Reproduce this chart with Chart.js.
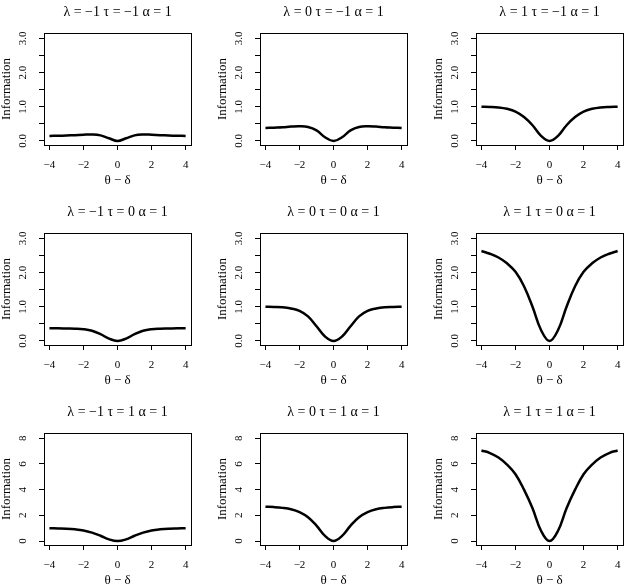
<!DOCTYPE html>
<html>
<head>
<meta charset="utf-8">
<script src="https://cdn.jsdelivr.net/npm/chart.js@4.4.1/dist/chart.umd.min.js"></script>
<style>
  html, body { margin: 0; padding: 0; background: #fff; overflow: hidden; }
  #grid { position: relative; width: 629px; height: 585px; overflow: hidden; }
  #grid canvas { position: absolute; }
</style>
</head>
<body>
<div id="grid"></div>
<script>
// theta - delta grid shared by every panel
let theta_minus_delta = [-4, -3.5, -3, -2.5, -2, -1.5, -1, -0.5, 0, 0.5, 1, 1.5, 2, 2.5, 3, 3.5, 4];

let panel_titles = [
  'λ = −1 τ = −1 α = 1', 'λ = 0 τ = −1 α = 1', 'λ = 1 τ = −1 α = 1',
  'λ = −1 τ = 0 α = 1',  'λ = 0 τ = 0 α = 1',  'λ = 1 τ = 0 α = 1',
  'λ = −1 τ = 1 α = 1',  'λ = 0 τ = 1 α = 1',  'λ = 1 τ = 1 α = 1'
];

// information values
let info_lm1_tm1 = [0.147, 0.153, 0.16, 0.17, 0.183, 0.19, 0.165, 0.08, 0, 0.08, 0.165, 0.19, 0.183, 0.17, 0.16, 0.153, 0.147];
let info_l0_tm1  = [0.38, 0.39, 0.40, 0.42, 0.43, 0.41, 0.31, 0.11, 0, 0.11, 0.31, 0.41, 0.43, 0.42, 0.40, 0.39, 0.38];
let info_l1_tm1  = [1.0, 0.995, 0.98, 0.94, 0.86, 0.70, 0.46, 0.15, 0, 0.15, 0.46, 0.70, 0.86, 0.94, 0.98, 0.995, 1.0];
let info_lm1_t0  = [0.37, 0.37, 0.365, 0.36, 0.345, 0.30, 0.20, 0.07, 0, 0.07, 0.20, 0.30, 0.345, 0.36, 0.365, 0.37, 0.37];
let info_l0_t0   = [1.0, 0.995, 0.985, 0.95, 0.88, 0.72, 0.43, 0.13, 0, 0.13, 0.43, 0.72, 0.88, 0.95, 0.985, 0.995, 1.0];
let info_l1_t0   = [2.63, 2.55, 2.44, 2.27, 2.02, 1.60, 1.00, 0.32, 0, 0.32, 1.00, 1.60, 2.02, 2.27, 2.44, 2.55, 2.63];
let info_lm1_t1  = [0.99, 0.98, 0.96, 0.91, 0.82, 0.65, 0.41, 0.13, 0, 0.13, 0.41, 0.65, 0.82, 0.91, 0.96, 0.98, 0.99];
let info_l0_t1   = [2.67, 2.64, 2.58, 2.47, 2.25, 1.85, 1.2, 0.4, 0, 0.4, 1.2, 1.85, 2.25, 2.47, 2.58, 2.64, 2.67];
let info_l1_t1   = [7.05, 6.85, 6.5, 5.95, 5.2, 4.0, 2.55, 0.8, 0, 0.8, 2.55, 4.0, 5.2, 5.95, 6.5, 6.85, 7.05];

let panel_values = [info_lm1_tm1, info_l0_tm1, info_l1_tm1, info_lm1_t0, info_l0_t0, info_l1_t0, info_lm1_t1, info_l0_t1, info_l1_t1];

// tick positions and labels
let x_ticks = [-4, -2, 0, 2, 4];
let x_tick_labels = ['−4', '−2', '0', '2', '4'];
let y_ticks_small = [0, 0.5, 1, 1.5, 2, 2.5, 3];
let y_tick_labels_small = ['0.0', '', '1.0', '', '2.0', '', '3.0'];
let y_ticks_large = [0, 2, 4, 6, 8];
let y_tick_labels_large = ['0', '2', '4', '6', '8'];

const serif = "'Liberation Serif', 'DejaVu Serif', serif";

// box round the plot region, like R's box()
const boxPlugin = {
  id: 'box',
  afterDraw(chart) {
    let a = chart.chartArea;
    let ctx = chart.ctx;
    let l = Math.round(a.left), t = Math.round(a.top), r = Math.round(a.right), b = Math.round(a.bottom);
    ctx.save();
    ctx.strokeStyle = '#000';
    ctx.lineWidth = 1;
    ctx.strokeRect(l + 0.5, t + 0.5, r - l, b - t);
    ctx.restore();
  }
};

let grid = document.getElementById('grid');
let col_left = [0, 216, 432];
let row_top = [0, 200, 400];

panel_values.forEach((values, i) => {
  let row = Math.floor(i / 3);
  let col = i % 3;
  let big = row === 2;

  let canvas = document.createElement('canvas');
  canvas.width = 197;
  canvas.height = 200;
  canvas.style.left = col_left[col] + 'px';
  canvas.style.top = row_top[row] + 'px';
  grid.appendChild(canvas);

  let yTicks = big ? y_ticks_large : y_ticks_small;
  let yLabels = big ? y_tick_labels_large : y_tick_labels_small;

  new Chart(canvas, {
    type: 'line',
    data: {
      datasets: [{
        data: theta_minus_delta.map((x, k) => ({ x: x, y: values[k] })),
        borderColor: '#000',
        borderWidth: 2.5,
        pointRadius: 0,
        fill: false,
        tension: 0.4
      }]
    },
    options: {
      responsive: false,
      animation: false,
      devicePixelRatio: 1,
      layout: { padding: { left: 0, right: 1, top: 0.2, bottom: 0 } },
      plugins: {
        legend: { display: false },
        tooltip: { enabled: false },
        title: {
          display: true,
          fullSize: false,
          text: panel_titles[i],
          color: '#000',
          font: { family: serif, size: 14, weight: 'normal' },
          padding: { top: 4, bottom: 12 }
        }
      },
      scales: {
        x: {
          type: 'linear',
          min: -4.32,
          max: 4.32,
          afterBuildTicks: s => { s.ticks = x_ticks.map(v => ({ value: v })); },
          afterFit: s => { s.height = 55; },
          ticks: {
            color: '#000',
            font: { family: serif, size: 11 },
            padding: 8.4,
            maxRotation: 0,
            callback: (v, k) => x_tick_labels[k]
          },
          grid: { drawOnChartArea: false, drawTicks: true, tickLength: 5, color: '#000', lineWidth: 1 },
          border: { display: false },
          title: {
            display: true,
            text: 'θ − δ',
            color: '#000',
            font: { family: serif, size: 13 },
            padding: { top: 0, bottom: 11.2 }
          }
        },
        y: {
          type: 'linear',
          min: big ? -0.31 : -0.117,
          max: big ? 8.41 : 3.155,
          afterBuildTicks: s => { s.ticks = yTicks.map(v => ({ value: v })); },
          afterFit: s => { s.width = 44; },
          ticks: {
            color: '#000',
            font: { family: serif, size: 11 },
            minRotation: 90,
            maxRotation: 90,
            crossAlign: 'center',
            padding: big ? 13.2 : 9.1,
            callback: (v, k) => yLabels[k]
          },
          grid: { drawOnChartArea: false, drawTicks: true, tickLength: 5, color: '#000', lineWidth: 1 },
          border: { display: false },
          title: {
            display: true,
            text: 'Information',
            color: '#000',
            font: { family: serif, size: 13, lineHeight: 1 },
            padding: { top: 0, bottom: 0 }
          }
        }
      }
    },
    plugins: [boxPlugin]
  });
});
</script>
</body>
</html>
